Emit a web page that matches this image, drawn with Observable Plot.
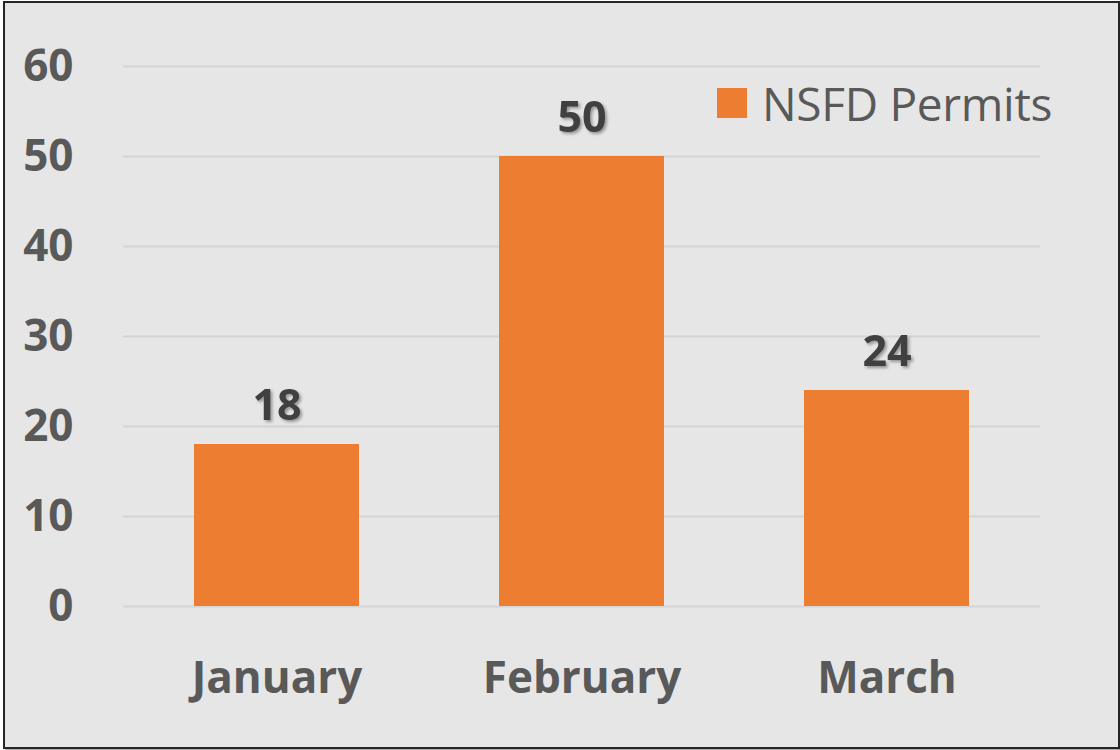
<!DOCTYPE html>
<html>
<head>
<meta charset="utf-8">
<script src="https://cdn.jsdelivr.net/npm/d3@7"></script>
<script src="https://cdn.jsdelivr.net/npm/@observablehq/plot@0.6"></script>
<style>
  html, body { margin: 0; padding: 0; background: #ffffff; width: 1120px; height: 750px; overflow: hidden; }
  #frame { position: absolute; left: 3px; top: 1px; width: 1113px; height: 744px; border: 2px solid #262626; background: #e6e6e6; box-shadow: 2px 2px 2px rgba(0,0,0,0.35); box-sizing: content-box; }
  #chart { position: absolute; left: 0; top: 0; }
  #legend { position: absolute; left: 717px; top: 72px; height: 62px; line-height: 62px; font-family: "Open Sans", sans-serif; font-size: 46px; color: #595959; display: flex; align-items: center; letter-spacing: -0.3px; }
  #legend .sw { width: 30px; height: 30px; background: #ED7D31; margin-right: 15px; }
  .vals text { filter: drop-shadow(2px 2px 1.5px rgba(0,0,0,0.35)); }
</style>
</head>
<body>
<div id="frame"></div>
<div id="chart"></div>
<div id="legend"><div class="sw"></div><span id="legendLabel"></span></div>
<script>
const months = ["January", "February", "March"];
const permits = [18, 50, 24];
const yTicks = [0, 10, 20, 30, 40, 50, 60];
const seriesName = "NSFD Permits";

const data = months.map((m, i) => ({month: m, value: permits[i]}));

const chart = Plot.plot({
  width: 1120,
  height: 750,
  marginLeft: 123,
  marginRight: 80,
  marginTop: 66,
  marginBottom: 144,
  style: {background: "transparent", fontFamily: "Open Sans, sans-serif", color: "#595959"},
  x: {domain: months, paddingInner: 0.46, paddingOuter: 0.23, label: null},
  y: {domain: [0, 60], label: null},
  marks: [
    Plot.ruleY(yTicks, {stroke: "#d4d4d4", strokeWidth: 2}),
    Plot.barY(data, {x: "month", y: "value", fill: "#ED7D31"}),
    Plot.text(data, {x: "month", y: "value", text: d => String(d.value), dy: -38, fontSize: 43, fontWeight: "bold", fill: "#404040", className: "vals"}),
    Plot.axisY(yTicks, {tickSize: 0, tickPadding: 0, dx: -50, fontSize: 44, fontWeight: "bold", fill: "#595959", textAnchor: "end", label: null}),
    Plot.axisX(months, {tickSize: 0, tickPadding: 0, dy: 55, fontSize: 44, fontWeight: "bold", fill: "#595959", label: null})
  ]
});
document.getElementById("chart").appendChild(chart);
document.getElementById("legendLabel").textContent = seriesName;
</script>
</body>
</html>
